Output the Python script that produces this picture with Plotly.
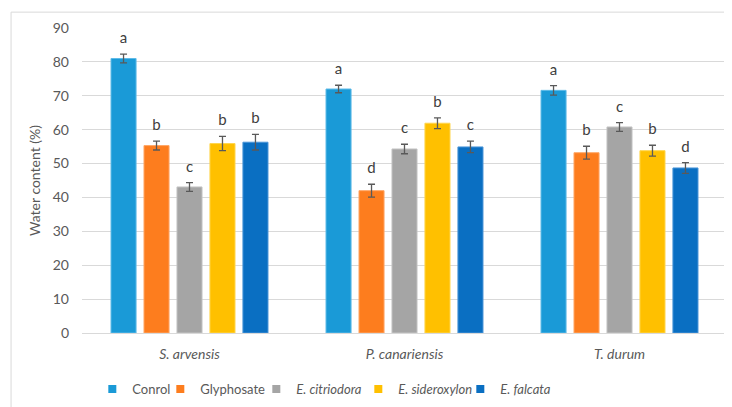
import plotly.graph_objects as go

species = ["S. arvensis", "P. canariensis", "T. durum"]
treatments = ["Conrol", "Glyphosate", "E. citriodora", "E. sideroxylon", "E. falcata"]
legend_names = ["Conrol", "Glyphosate", "<i>E. citriodora</i>", "<i>E. sideroxylon</i>", "<i>E. falcata</i>"]
colors = ["#1A9AD7", "#FD7D1E", "#A5A5A5", "#FFC000", "#0A6FC2"]
edge_colors = ["#5EBBE8", "#FFA766", "#C4C4C4", "#FFD54D", "#4A95D8"]
legend_text_widths = [23, 51, 57, 57, 50]

values = {
    "Conrol":         [81.0, 72.0, 71.6],
    "Glyphosate":     [55.3, 42.0, 53.2],
    "E. citriodora":  [43.1, 54.3, 60.8],
    "E. sideroxylon": [55.9, 61.9, 53.8],
    "E. falcata":     [56.3, 54.9, 48.7],
}
errors = {
    "Conrol":         [1.3, 1.1, 1.4],
    "Glyphosate":     [1.3, 1.9, 1.9],
    "E. citriodora":  [1.3, 1.4, 1.3],
    "E. sideroxylon": [2.1, 1.6, 1.6],
    "E. falcata":     [2.3, 1.7, 1.6],
}
letters = {
    "Conrol":         ["a", "a", "a"],
    "Glyphosate":     ["b", "d", "b"],
    "E. citriodora":  ["c", "c", "c"],
    "E. sideroxylon": ["b", "b", "b"],
    "E. falcata":     ["b", "c", "d"],
}
y_ticks = [0, 10, 20, 30, 40, 50, 60, 70, 80, 90]

FONT = "Lato, 'Open Sans', sans-serif"
GRAY = "#595959"

fig = go.Figure()
for i, t in enumerate(treatments):
    fig.add_trace(go.Bar(
        x=species, y=values[t], name=legend_names[i],
        marker=dict(color=colors[i], line=dict(color=edge_colors[i], width=1)),
        error_y=dict(type="data", array=errors[t], color=GRAY, thickness=1.3, width=3.5),
        hoverinfo="skip", showlegend=False,
    ))
for i, t in enumerate(treatments):
    tops = [v + e for v, e in zip(values[t], errors[t])]
    fig.add_trace(go.Scatter(
        x=species, y=tops, mode="markers+text", text=letters[t],
        marker=dict(size=10, opacity=0),
        textposition="top center",
        textfont=dict(family=FONT, size=15, color="#404040"),
        showlegend=False, hoverinfo="skip",
    ))
# legend entries (small square swatches like the original), on a hidden overlay axis
for i, t in enumerate(treatments):
    fig.add_trace(go.Scatter(
        x=[None], y=[None], mode="markers", name=legend_names[i],
        marker=dict(symbol="square", size=8, color=colors[i]),
        legendwidth=legend_text_widths[i], showlegend=True, hoverinfo="skip",
        xaxis="x2", yaxis="y2",
    ))

fig.update_layout(
    width=732, height=407,
    margin=dict(l=74, r=13, t=20, b=82, autoexpand=False),
    paper_bgcolor="white", plot_bgcolor="white",
    barmode="group", bargap=0.233, bargroupgap=0.24,
    scattermode="group", scattergap=0.233,
    font=dict(family=FONT, color=GRAY, size=13),
    legend=dict(orientation="h", x=0.016, xanchor="left", y=-0.184, yanchor="middle",
                font=dict(family=FONT, size=13, color=GRAY), itemwidth=30,
                traceorder="normal", tracegroupgap=0),
    xaxis=dict(
        tickmode="array", tickvals=species,
        ticktext=["<i>%s</i>" % s for s in species],
        tickfont=dict(family=FONT, size=14, color=GRAY),
        ticklabelstandoff=8,
        showline=True, linecolor="#D9D9D9", linewidth=1, ticks="",
    ),
    yaxis=dict(
        range=[0, 90], tickvals=y_ticks,
        showgrid=True, gridcolor="#D9D9D9", gridwidth=1,
        zeroline=False, tickfont=dict(family=FONT, size=14, color=GRAY),
        ticklabelstandoff=12,
        title=dict(text="Water content (%)", font=dict(family=FONT, size=14, color=GRAY), standoff=8),
    ),
    xaxis2=dict(overlaying="x", visible=False, range=[0, 1]),
    yaxis2=dict(overlaying="y", visible=False, range=[0, 1]),
    shapes=[dict(type="rect", xref="paper", yref="paper",
                 x0=-0.110, x1=1.03, y0=-0.30, y1=1.052,
                 line=dict(color="#D9D9D9", width=1), fillcolor="rgba(0,0,0,0)", layer="below")],
)

fig.write_html("out.html")
